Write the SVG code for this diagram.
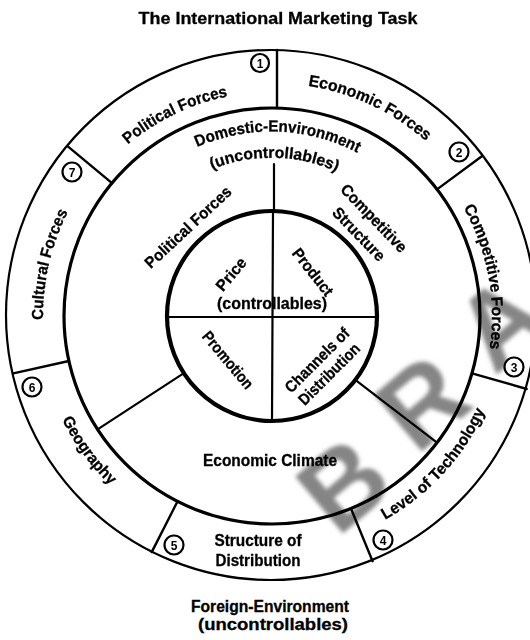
<svg xmlns="http://www.w3.org/2000/svg" width="530" height="640" viewBox="0 0 530 640">
<style>
.ln{stroke:#000;fill:none;stroke-linecap:round}
.t{font-family:"Liberation Sans",Arial,sans-serif;font-weight:bold;fill:#000;stroke:#000;stroke-width:0.3;font-size:16px}
.num{font-family:"Liberation Sans",Arial,sans-serif;font-weight:bold;fill:#000;font-size:12px;text-anchor:middle}
.badge{fill:#fff;stroke:#000;stroke-width:2.2}
.wm{font-family:"Liberation Sans",Arial,sans-serif;font-weight:bold;fill:#707070;font-size:108px;text-anchor:middle;opacity:0.85}
</style>
<defs>
<filter id="blur" x="-20%" y="-20%" width="140%" height="140%"><feGaussianBlur stdDeviation="2.2"/></filter>
<path id="p-pol-out" d="M67.8,223.8 A224,224 0 0 1 327.3,98.9"/>
<path id="p-eco" d="M212.1,90.8 A233,233 0 0 1 483.3,217.9"/>
<path id="p-comp" d="M411.9,146.2 A220,220 0 0 1 463.5,424.3"/>
<path id="p-lev" d="M302.4,547 A233,233 0 0 0 504.8,326.2"/>
<path id="p-geo" d="M38.5,300.9 A234,234 0 0 0 216.6,543.4"/>
<path id="p-cul" d="M68,420 A229,229 0 0 1 134.2,133.1"/>
<path id="p-dom" d="M157.6,170.9 A184,184 0 0 1 395.1,179.3"/>
<path id="p-unc" d="M172,193 A158,158 0 0 1 375.6,196.8"/>
</defs>
<rect width="530" height="640" fill="#fff"/>

<g id="watermark" filter="url(#blur)">
<text class="wm" transform="translate(343,484) rotate(-40)" dy="0.35em">B</text>
<text class="wm" transform="translate(422,402) rotate(-40)" dy="0.35em">R</text>
<text class="wm" transform="translate(500,322) rotate(-40)" dy="0.35em">A</text>
</g>

<g id="title"><text class="t" x="278" y="24" text-anchor="middle" style="font-size:17px" textLength="279" lengthAdjust="spacingAndGlyphs">The International Marketing Task</text></g>

<g id="rings">
<circle class="ln" cx="271" cy="315" r="265" stroke-width="2.2"/>
<circle class="ln" cx="272" cy="316" r="208" stroke-width="3.2"/>
<circle class="ln" cx="272" cy="316" r="105" stroke-width="4.2"/>
</g>

<g id="connectors">
<line class="ln" stroke-width="2.4" x1="277" y1="50" x2="277" y2="108"/>
<line class="ln" stroke-width="2.4" x1="482.2" y1="156" x2="437" y2="189.4"/>
<line class="ln" stroke-width="2.4" x1="526.7" y1="389" x2="472" y2="373.3"/>
<line class="ln" stroke-width="2.4" x1="372.6" y1="561.2" x2="350.9" y2="508.4"/>
<line class="ln" stroke-width="2.4" x1="151.7" y1="552.1" x2="177.6" y2="501.3"/>
<line class="ln" stroke-width="2.4" x1="13.3" y1="373.3" x2="68.9" y2="361"/>
<line class="ln" stroke-width="2.4" x1="68.1" y1="146.7" x2="112" y2="183.1"/>
<line class="ln" stroke-width="2.2" x1="274" y1="164" x2="274" y2="211"/>
<line class="ln" stroke-width="2.2" x1="183.9" y1="373.2" x2="97.6" y2="429.3"/>
<line class="ln" stroke-width="2.2" x1="355.3" y1="379.9" x2="437" y2="442.6"/>
<line class="ln" stroke-width="2.2" x1="167" y1="317" x2="377" y2="317"/>
<line class="ln" stroke-width="2.2" x1="273" y1="211" x2="272" y2="421"/>
</g>

<g id="political-forces-outer">
<text class="t"><textPath href="#p-pol-out" startOffset="50%" text-anchor="middle" textLength="112" lengthAdjust="spacingAndGlyphs">Political Forces</textPath></text>
<circle class="badge" cx="260" cy="63" r="9"/><text class="num" x="260" y="67.5">1</text>
</g>
<g id="economic-forces">
<text class="t"><textPath href="#p-eco" startOffset="50%" text-anchor="middle" textLength="132" lengthAdjust="spacingAndGlyphs">Economic Forces</textPath></text>
<circle class="badge" cx="459" cy="152" r="9.5"/><text class="num" x="459" y="156.5">2</text>
</g>
<g id="competitive-forces">
<text class="t"><textPath href="#p-comp" startOffset="50%" text-anchor="middle" textLength="146" lengthAdjust="spacingAndGlyphs">Competitive Forces</textPath></text>
<circle class="badge" cx="514" cy="367" r="9.5"/><text class="num" x="514" y="371.5">3</text>
</g>
<g id="level-of-technology">
<text class="t"><textPath href="#p-lev" startOffset="50%" text-anchor="middle" textLength="150" lengthAdjust="spacingAndGlyphs">Level of Technology</textPath></text>
<circle class="badge" cx="383" cy="540" r="9.5"/><text class="num" x="383" y="544.5">4</text>
</g>
<g id="structure-of-distribution">
<text class="t" x="258" y="546" text-anchor="middle" textLength="87" lengthAdjust="spacingAndGlyphs">Structure of</text>
<text class="t" x="258" y="566" text-anchor="middle" textLength="85" lengthAdjust="spacingAndGlyphs">Distribution</text>
<circle class="badge" cx="174" cy="545" r="9.5"/><text class="num" x="174" y="549.5">5</text>
</g>
<g id="geography">
<text class="t"><textPath href="#p-geo" startOffset="50%" text-anchor="middle" textLength="82" lengthAdjust="spacingAndGlyphs">Geography</textPath></text>
<circle class="badge" cx="32" cy="387" r="9.5"/><text class="num" x="32" y="391.5">6</text>
</g>
<g id="cultural-forces">
<text class="t"><textPath href="#p-cul" startOffset="50%" text-anchor="middle" textLength="112" lengthAdjust="spacingAndGlyphs">Cultural Forces</textPath></text>
<circle class="badge" cx="72" cy="172" r="9.5"/><text class="num" x="72" y="176.5">7</text>
</g>

<g id="domestic-environment">
<text class="t"><textPath href="#p-dom" startOffset="50%" text-anchor="middle" textLength="166" lengthAdjust="spacingAndGlyphs">Domestic-Environment</textPath></text>
<text class="t"><textPath href="#p-unc" startOffset="50%" text-anchor="middle" textLength="128" lengthAdjust="spacingAndGlyphs">(uncontrollables)</textPath></text>
</g>
<g id="political-forces-inner">
<text class="t" transform="translate(188,227) rotate(-43)" text-anchor="middle" dy="0.35em" textLength="112" lengthAdjust="spacingAndGlyphs">Political Forces</text>
</g>
<g id="competitive-structure">
<text class="t" transform="translate(374,218) rotate(46)" text-anchor="middle" dy="0.35em" textLength="88" lengthAdjust="spacingAndGlyphs">Competitive</text>
<text class="t" transform="translate(359,234) rotate(46)" text-anchor="middle" dy="0.35em" textLength="68" lengthAdjust="spacingAndGlyphs">Structure</text>
</g>
<g id="economic-climate">
<text class="t" x="270" y="466" text-anchor="middle" textLength="134" lengthAdjust="spacingAndGlyphs">Economic Climate</text>
</g>

<g id="price"><text class="t" transform="translate(231,274) rotate(-50)" text-anchor="middle" dy="0.35em" textLength="38" lengthAdjust="spacingAndGlyphs">Price</text></g>
<g id="product"><text class="t" transform="translate(313,272) rotate(52)" text-anchor="middle" dy="0.35em" textLength="56" lengthAdjust="spacingAndGlyphs">Product</text></g>
<g id="controllables"><text class="t" x="272" y="309" text-anchor="middle" textLength="110" lengthAdjust="spacingAndGlyphs">(controllables)</text></g>
<g id="promotion"><text class="t" transform="translate(228,360) rotate(50)" text-anchor="middle" dy="0.35em" textLength="70" lengthAdjust="spacingAndGlyphs">Promotion</text></g>
<g id="channels-of-distribution">
<text class="t" transform="translate(317,360) rotate(-45)" text-anchor="middle" dy="0.35em" textLength="84" lengthAdjust="spacingAndGlyphs">Channels of</text>
<text class="t" transform="translate(329,374) rotate(-45)" text-anchor="middle" dy="0.35em" textLength="80" lengthAdjust="spacingAndGlyphs">Distribution</text>
</g>

<g id="foreign-environment">
<text class="t" x="270" y="612" text-anchor="middle" textLength="158" lengthAdjust="spacingAndGlyphs">Foreign-Environment</text>
<text class="t" x="273" y="630" text-anchor="middle" textLength="150" lengthAdjust="spacingAndGlyphs">(uncontrollables)</text>
</g>
</svg>
